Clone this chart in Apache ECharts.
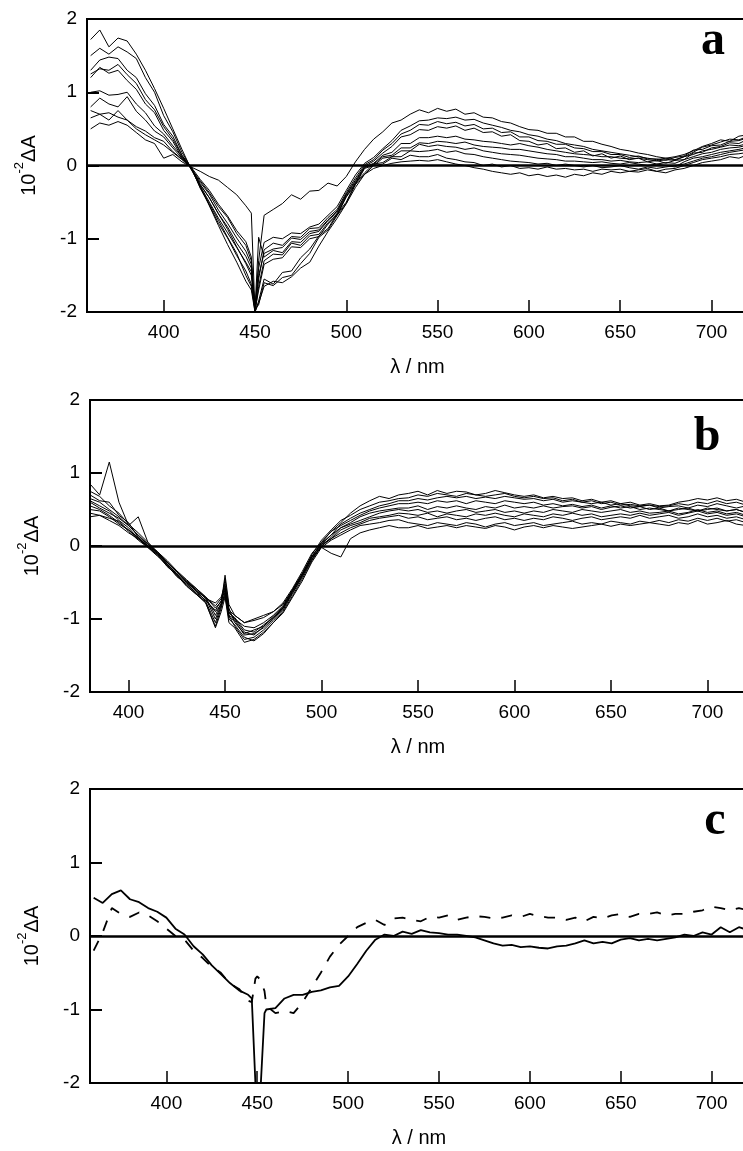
<!DOCTYPE html>
<html>
<head>
<meta charset="utf-8">
<script src="https://cdn.jsdelivr.net/npm/echarts@6/dist/echarts.min.js"></script>
<style>
  html, body { margin: 0; padding: 0; background: #fff; }
  #chart { width: 743px; height: 1151px; }
</style>
</head>
<body>
<div id="chart"></div>
<script>
// wavelengths (nm) for panel a and c, and panel b
var wlA = [360,365,370,375,380,385,390,395,400,405,410,415,420,425,430,435,440,445,
  448,450,452,
  455,460,465,470,475,480,485,490,495,500,505,510,515,520,525,530,535,540,
  545,550,555,560,565,570,575,580,585,590,595,600,605,610,615,620,625,630,635,640,645,650,655,660,665,670,675,680,685,690,695,700,705,710,715,720];

var wlB = [380,385,390,395,400,405,410,415,420,425,430,435,440,445,
  448,450,452,
  455,460,465,470,475,480,485,490,495,500,505,510,515,520,525,530,535,540,
  545,550,555,560,565,570,575,580,585,590,595,600,605,610,615,620,625,630,635,640,645,650,655,660,665,670,675,680,685,690,695,700,705,710,715,720];

var wlC = [360,365,370,375,380,385,390,395,400,405,410,415,420,425,430,435,440,445,
  447,449,450,452,454,
  455,460,465,470,475,480,485,490,495,500,505,510,515,520,525,530,535,540,
  545,550,555,560,565,570,575,580,585,590,595,600,605,610,615,620,625,630,635,640,645,650,655,660,665,670,675,680,685,690,695,700,705,710,715,720];

var xTicks = [400, 450, 500, 550, 600, 650, 700];

// panel a, 10 spectra (10^-2 dA)
var a1 = [1.72,1.85,1.62,1.74,1.70,1.52,1.30,1.05,0.78,0.50,0.22,-0.05,-0.28,-0.50,-0.72,-0.92,-1.12,-1.32,
  -1.45,-1.98,-1.40,
  -1.05,-0.98,-1.00,-0.92,-0.93,-0.84,-0.80,-0.68,-0.56,-0.34,-0.13,0.03,0.11,0.23,0.34,0.48,0.54,0.61,
  0.62,0.65,0.64,0.66,0.62,0.63,0.58,0.55,0.52,0.48,0.46,0.42,0.40,0.36,0.34,0.30,0.28,0.26,0.22,0.20,0.18,0.16,0.14,0.12,0.10,0.08,0.10,0.08,0.12,0.18,0.25,0.28,0.32,0.36,0.35,0.40];
var a2 = [1.50,1.60,1.52,1.62,1.55,1.46,1.20,1.00,0.68,0.46,0.18,-0.03,-0.26,-0.44,-0.66,-0.84,-1.06,-1.24,
  -1.40,-2.00,-1.55,
  -1.15,-1.06,-1.09,-0.97,-0.98,-0.86,-0.85,-0.71,-0.60,-0.37,-0.17,0.01,0.08,0.21,0.30,0.43,0.48,0.56,
  0.55,0.60,0.57,0.59,0.54,0.56,0.50,0.51,0.45,0.46,0.39,0.39,0.34,0.33,0.29,0.29,0.24,0.23,0.19,0.19,0.15,0.15,0.11,0.13,0.09,0.09,0.07,0.11,0.13,0.21,0.22,0.27,0.28,0.33,0.34,0.38];
var a3 = [1.30,1.44,1.48,1.46,1.30,1.20,0.98,0.82,0.56,0.40,0.14,-0.05,-0.23,-0.39,-0.61,-0.79,-0.99,-1.17,
  -1.35,-1.95,-1.50,
  -1.20,-1.14,-1.12,-0.99,-1.01,-0.90,-0.88,-0.74,-0.62,-0.39,-0.20,-0.01,0.06,0.17,0.26,0.39,0.42,0.49,
  0.48,0.53,0.51,0.54,0.48,0.51,0.45,0.46,0.40,0.42,0.34,0.33,0.28,0.30,0.23,0.24,0.18,0.20,0.13,0.16,0.10,0.13,0.08,0.10,0.05,0.07,0.03,0.07,0.08,0.17,0.18,0.24,0.26,0.31,0.30,0.36];
var a4 = [1.25,1.32,1.30,1.38,1.24,1.12,0.90,0.76,0.53,0.36,0.14,-0.02,-0.31,-0.54,-0.79,-0.99,-1.23,-1.44,
  -1.62,-2.00,-1.85,
  -1.55,-1.62,-1.46,-1.44,-1.26,-1.14,-0.96,-0.86,-0.66,-0.50,-0.24,-0.10,0.02,0.04,0.12,0.12,0.20,0.19,
  0.20,0.22,0.18,0.20,0.16,0.15,0.12,0.10,0.08,0.06,0.05,0.04,0.02,0.03,0.00,0.02,0.00,-0.02,0.00,-0.03,-0.02,0.00,-0.03,-0.05,-0.02,-0.04,-0.02,0.00,0.02,0.06,0.10,0.12,0.15,0.18,0.20,0.22];
var a5 = [1.20,1.34,1.26,1.30,1.16,1.04,0.84,0.72,0.48,0.33,0.11,-0.04,-0.21,-0.37,-0.56,-0.71,-0.93,-1.09,
  -1.30,-1.97,-0.98,
  -1.25,-1.16,-1.19,-1.04,-1.05,-0.93,-0.90,-0.75,-0.64,-0.40,-0.22,-0.02,0.03,0.14,0.18,0.30,0.30,0.38,
  0.38,0.40,0.38,0.40,0.36,0.35,0.33,0.32,0.30,0.28,0.30,0.27,0.25,0.22,0.20,0.18,0.16,0.15,0.14,0.12,0.12,0.10,0.09,0.10,0.08,0.06,0.08,0.07,0.12,0.15,0.20,0.22,0.25,0.28,0.27,0.30];
var a6 = [1.00,1.02,0.96,0.97,1.00,0.84,0.72,0.54,0.43,0.27,0.12,-0.02,-0.19,-0.34,-0.53,-0.69,-0.89,-1.04,
  -1.25,-2.00,-1.65,
  -1.30,-1.21,-1.22,-1.06,-1.09,-0.96,-0.94,-0.78,-0.66,-0.42,-0.24,-0.03,0.02,0.12,0.14,0.24,0.24,0.31,
  0.30,0.33,0.32,0.30,0.32,0.28,0.26,0.25,0.24,0.22,0.22,0.20,0.18,0.16,0.15,0.12,0.12,0.10,0.08,0.08,0.06,0.07,0.05,0.04,0.05,0.02,0.04,0.03,0.08,0.12,0.16,0.18,0.22,0.24,0.25,0.28];
var a7 = [0.80,0.92,0.84,0.80,0.94,0.74,0.62,0.47,0.39,0.24,0.10,-0.03,-0.26,-0.44,-0.66,-0.87,-1.11,-1.34,
  -1.50,-1.98,-1.70,
  -1.35,-1.28,-1.26,-1.11,-1.12,-1.00,-0.97,-0.80,-0.68,-0.43,-0.26,-0.04,0.00,0.10,0.12,0.20,0.20,0.29,
  0.26,0.28,0.26,0.25,0.22,0.24,0.20,0.18,0.16,0.15,0.14,0.12,0.10,0.09,0.08,0.06,0.06,0.05,0.04,0.05,0.03,0.02,0.04,0.02,0.00,0.02,0.00,-0.02,0.05,0.10,0.12,0.15,0.18,0.20,0.22,0.25];
var a8 = [0.75,0.70,0.72,0.66,0.62,0.53,0.47,0.38,0.33,0.19,0.09,-0.02,-0.08,-0.15,-0.20,-0.30,-0.40,-0.55,
  -0.65,-2.00,-1.30,
  -0.68,-0.60,-0.52,-0.40,-0.46,-0.35,-0.34,-0.24,-0.28,-0.15,0.05,0.22,0.36,0.46,0.58,0.62,0.70,0.76,
  0.72,0.78,0.74,0.77,0.70,0.72,0.66,0.65,0.60,0.58,0.53,0.49,0.48,0.44,0.44,0.39,0.39,0.33,0.33,0.29,0.26,0.22,0.20,0.17,0.15,0.12,0.10,0.12,0.15,0.20,0.26,0.30,0.35,0.33,0.40,0.42];
var a9 = [0.65,0.70,0.62,0.75,0.62,0.50,0.42,0.35,0.28,0.18,0.08,-0.03,-0.30,-0.52,-0.75,-0.98,-1.20,-1.50,
  -1.65,-1.96,-1.90,
  -1.60,-1.64,-1.53,-1.50,-1.34,-1.20,-0.98,-0.88,-0.68,-0.52,-0.26,-0.12,0.00,0.02,0.10,0.08,0.14,0.12,
  0.12,0.15,0.10,0.08,0.05,0.04,0.00,0.02,-0.02,0.00,-0.04,-0.03,-0.05,-0.02,-0.05,-0.04,-0.06,-0.05,-0.08,-0.05,-0.06,-0.05,-0.08,-0.06,-0.04,-0.08,-0.05,-0.04,0.00,0.04,0.08,0.10,0.12,0.15,0.16,0.18];
var a10 = [0.50,0.58,0.55,0.60,0.55,0.45,0.35,0.30,0.10,0.15,0.05,-0.02,-0.28,-0.55,-0.82,-1.08,-1.32,-1.58,
  -1.70,-2.00,-1.88,
  -1.65,-1.58,-1.60,-1.52,-1.40,-1.32,-1.10,-0.90,-0.72,-0.52,-0.30,-0.12,-0.04,0.00,0.03,0.05,0.06,0.07,
  0.06,0.08,0.05,0.02,0.00,-0.03,-0.05,-0.08,-0.10,-0.12,-0.10,-0.14,-0.12,-0.15,-0.13,-0.16,-0.12,-0.14,-0.10,-0.12,-0.08,-0.10,-0.08,-0.09,-0.06,-0.08,-0.10,-0.06,-0.04,0.00,0.04,0.06,0.08,0.12,0.10,0.15];

// panel b, 10 spectra
var b1 = [0.85,0.70,1.15,0.60,0.28,0.40,0.05,-0.10,-0.22,-0.35,-0.48,-0.60,-0.72,-1.00,
  -0.80,-0.45,-0.85,
  -1.05,-1.20,-1.15,-1.10,-0.98,-0.85,-0.62,-0.40,-0.15,0.05,0.20,0.32,0.45,0.55,0.62,0.68,0.65,0.70,
  0.72,0.75,0.70,0.76,0.72,0.75,0.74,0.70,0.72,0.76,0.73,0.70,0.68,0.70,0.66,0.68,0.65,0.66,0.62,0.64,0.60,0.62,0.58,0.60,0.56,0.58,0.55,0.56,0.60,0.62,0.65,0.63,0.66,0.62,0.64,0.60];
var b2 = [0.75,0.68,0.55,0.45,0.30,0.18,0.05,-0.08,-0.25,-0.38,-0.50,-0.62,-0.75,-0.88,
  -0.75,-0.55,-0.90,
  -1.00,-1.10,-1.12,-1.05,-0.95,-0.82,-0.60,-0.38,-0.12,0.08,0.22,0.35,0.42,0.50,0.55,0.60,0.62,0.65,
  0.66,0.70,0.68,0.72,0.70,0.68,0.72,0.70,0.68,0.70,0.72,0.68,0.66,0.68,0.65,0.66,0.62,0.64,0.60,0.62,0.58,0.60,0.56,0.57,0.55,0.56,0.54,0.55,0.58,0.56,0.60,0.58,0.62,0.58,0.60,0.56];
var b3 = [0.70,0.62,0.60,0.42,0.32,0.12,0.00,-0.12,-0.28,-0.40,-0.52,-0.65,-0.78,-1.10,
  -0.85,-0.62,-0.95,
  -1.10,-1.28,-1.25,-1.15,-1.02,-0.88,-0.65,-0.42,-0.18,0.02,0.15,0.30,0.38,0.45,0.50,0.55,0.58,0.62,
  0.62,0.65,0.63,0.66,0.68,0.66,0.68,0.65,0.67,0.65,0.68,0.66,0.64,0.65,0.62,0.64,0.60,0.62,0.60,0.58,0.60,0.56,0.58,0.55,0.54,0.56,0.52,0.54,0.55,0.52,0.56,0.54,0.58,0.55,0.52,0.55];
var b4 = [0.65,0.60,0.50,0.40,0.28,0.15,0.03,-0.10,-0.22,-0.36,-0.48,-0.62,-0.70,-0.95,
  -0.78,-0.40,-0.80,
  -0.95,-1.05,-1.02,-0.98,-0.90,-0.78,-0.58,-0.35,-0.10,0.05,0.20,0.28,0.35,0.42,0.48,0.52,0.55,0.58,
  0.58,0.60,0.58,0.62,0.60,0.62,0.58,0.62,0.60,0.58,0.62,0.60,0.58,0.60,0.56,0.58,0.55,0.57,0.54,0.56,0.52,0.55,0.52,0.54,0.50,0.52,0.50,0.48,0.52,0.50,0.48,0.52,0.50,0.48,0.50,0.46];
var b5 = [0.62,0.55,0.48,0.35,0.25,0.10,0.00,-0.12,-0.25,-0.40,-0.55,-0.66,-0.76,-1.05,
  -0.82,-0.68,-1.00,
  -1.08,-1.25,-1.30,-1.20,-1.05,-0.90,-0.68,-0.45,-0.20,0.00,0.12,0.25,0.32,0.40,0.45,0.48,0.50,0.52,
  0.52,0.55,0.50,0.54,0.52,0.55,0.52,0.50,0.54,0.52,0.56,0.52,0.54,0.52,0.55,0.52,0.54,0.55,0.52,0.54,0.50,0.53,0.55,0.52,0.54,0.50,0.52,0.48,0.50,0.52,0.48,0.50,0.52,0.48,0.50,0.46];
var b6 = [0.60,0.52,0.45,0.38,0.28,0.14,0.02,-0.08,-0.20,-0.34,-0.46,-0.58,-0.70,-0.82,
  -0.72,-0.58,-0.92,
  -0.98,-1.15,-1.18,-1.08,-0.98,-0.85,-0.62,-0.40,-0.15,0.04,0.15,0.25,0.30,0.35,0.40,0.45,0.48,0.50,
  0.48,0.50,0.46,0.48,0.45,0.48,0.50,0.46,0.48,0.50,0.46,0.48,0.45,0.48,0.46,0.50,0.48,0.46,0.50,0.48,0.46,0.48,0.50,0.46,0.48,0.45,0.46,0.48,0.44,0.46,0.50,0.46,0.48,0.44,0.46,0.42];
var b7 = [0.55,0.50,0.42,0.32,0.22,0.10,-0.02,-0.14,-0.26,-0.42,-0.52,-0.64,-0.74,-0.90,
  -0.80,-0.65,-0.98,
  -1.02,-1.22,-1.20,-1.12,-1.00,-0.86,-0.64,-0.42,-0.18,0.00,0.10,0.22,0.28,0.32,0.38,0.40,0.42,0.45,
  0.44,0.42,0.45,0.40,0.44,0.42,0.40,0.44,0.42,0.45,0.42,0.40,0.44,0.42,0.40,0.44,0.42,0.45,0.42,0.44,0.40,0.42,0.44,0.42,0.45,0.42,0.44,0.46,0.42,0.45,0.48,0.44,0.46,0.42,0.44,0.40];
var b8 = [0.50,0.48,0.40,0.30,0.22,0.12,0.00,-0.10,-0.24,-0.38,-0.50,-0.60,-0.72,-0.78,
  -0.70,-0.52,-0.88,
  -0.95,-1.05,-1.00,-0.95,-0.90,-0.80,-0.60,-0.38,-0.14,0.02,0.10,0.18,0.25,0.30,0.35,0.38,0.40,0.42,
  0.38,0.40,0.36,0.38,0.40,0.36,0.38,0.35,0.38,0.40,0.36,0.38,0.35,0.38,0.36,0.40,0.38,0.35,0.38,0.40,0.36,0.38,0.40,0.38,0.42,0.38,0.40,0.42,0.38,0.40,0.44,0.40,0.42,0.38,0.40,0.36];
var b9 = [0.45,0.42,0.38,0.34,0.20,0.08,-0.02,-0.12,-0.28,-0.40,-0.54,-0.66,-0.78,-1.12,
  -0.90,-0.70,-1.05,
  -1.12,-1.32,-1.28,-1.18,-1.05,-0.92,-0.70,-0.48,-0.22,-0.02,0.08,0.15,0.22,0.28,0.30,0.32,0.35,0.36,
  0.32,0.30,0.28,0.32,0.30,0.28,0.32,0.30,0.26,0.30,0.32,0.28,0.30,0.32,0.28,0.30,0.32,0.34,0.30,0.32,0.30,0.34,0.32,0.30,0.34,0.32,0.35,0.32,0.36,0.34,0.38,0.35,0.38,0.34,0.36,0.32];
var b10 = [0.40,0.42,0.35,0.28,0.18,0.10,0.00,-0.08,-0.22,-0.35,-0.48,-0.58,-0.70,-0.85,
  -0.76,-0.60,-0.95,
  -1.00,-1.18,-1.22,-1.10,-0.96,-0.84,-0.60,-0.38,-0.15,-0.02,-0.10,-0.15,0.10,0.18,0.22,0.25,0.28,0.25,
  0.25,0.28,0.24,0.26,0.28,0.25,0.28,0.26,0.24,0.28,0.26,0.22,0.26,0.28,0.25,0.28,0.26,0.24,0.26,0.28,0.30,0.27,0.30,0.28,0.30,0.32,0.30,0.28,0.32,0.30,0.35,0.30,0.32,0.35,0.30,0.28];

// panel c, solid and dashed spectra
var cSolid = [0.52,0.45,0.57,0.62,0.50,0.46,0.38,0.33,0.25,0.10,0.02,-0.14,-0.25,-0.40,-0.52,-0.64,-0.74,-0.80,
  -0.85,-2.00,-2.00,-2.00,-1.05,
  -1.00,-0.98,-0.85,-0.80,-0.80,-0.76,-0.74,-0.70,-0.68,-0.55,-0.38,-0.20,-0.05,0.02,0.00,0.06,0.03,0.08,
  0.05,0.04,0.02,0.02,0.00,-0.02,-0.06,-0.10,-0.13,-0.12,-0.15,-0.14,-0.16,-0.17,-0.14,-0.13,-0.10,-0.06,-0.10,-0.08,-0.10,-0.05,
  -0.03,-0.06,-0.04,-0.06,-0.04,-0.02,0.02,0.00,0.05,0.02,0.12,0.05,0.12,0.08];
var cDashed = [-0.20,0.05,0.38,0.30,0.26,0.32,0.28,0.20,0.10,0.00,-0.05,-0.20,-0.30,-0.42,-0.50,-0.65,-0.72,-0.88,
  -0.90,-0.58,-0.55,-0.60,-0.75,
  -0.95,-1.05,-1.02,-1.05,-0.90,-0.70,-0.50,-0.28,-0.12,0.00,0.12,0.18,0.22,0.15,0.24,0.25,0.22,0.20,
  0.26,0.25,0.28,0.22,0.25,0.27,0.26,0.24,0.25,0.28,0.26,0.30,0.27,0.25,0.25,0.22,0.25,0.20,0.26,0.24,0.28,0.30,
  0.26,0.30,0.30,0.32,0.28,0.30,0.30,0.33,0.35,0.40,0.38,0.35,0.38,0.35];

var FONT = 'Liberation Sans';

function pairs(xs, ys) {
  return xs.map(function (x, i) { return [x, ys[i]]; });
}

function spectrum(idx, xs, ys, width, dash) {
  return {
    type: 'line',
    xAxisIndex: idx,
    yAxisIndex: idx,
    data: pairs(xs, ys),
    symbol: 'none',
    silent: true,
    lineStyle: { color: '#000', width: width, type: dash || 'solid' },
    z: 3
  };
}

function zeroLine(idx) {
  return {
    type: 'line',
    xAxisIndex: idx,
    yAxisIndex: idx,
    data: [],
    silent: true,
    markLine: {
      silent: true,
      symbol: 'none',
      label: { show: false },
      lineStyle: { color: '#000', width: 2.5, type: 'solid' },
      data: [{ yAxis: 0 }]
    },
    z: 4
  };
}

function xAxis(idx, min) {
  return {
    type: 'value',
    gridIndex: idx,
    min: min,
    max: 720,
    name: 'λ / nm',
    nameLocation: 'middle',
    nameGap: 45,
    nameTextStyle: { fontFamily: FONT, fontSize: 20, color: '#000' },
    axisLine: { show: false, onZero: false },
    axisTick: { inside: true, length: 12, customValues: xTicks, lineStyle: { color: '#000', width: 1.5 } },
    axisLabel: { customValues: xTicks, margin: 11, fontFamily: FONT, fontSize: 19, color: '#000' },
    splitLine: { show: false }
  };
}

function yAxis(idx) {
  return {
    type: 'value',
    gridIndex: idx,
    min: -2,
    max: 2,
    interval: 1,
    name: '{n|10}{s|-2}{n|ΔA}',
    nameLocation: 'middle',
    nameRotate: 90,
    nameGap: 48,
    nameTextStyle: {
      rich: {
        n: { fontFamily: FONT, fontSize: 20, color: '#000', lineHeight: 26, verticalAlign: 'bottom' },
        s: { fontFamily: FONT, fontSize: 13, color: '#000', lineHeight: 26, verticalAlign: 'top' }
      }
    },
    axisLine: { show: false, onZero: false },
    axisTick: { inside: true, length: 12, lineStyle: { color: '#000', width: 2 } },
    axisLabel: { margin: 10, fontFamily: FONT, fontSize: 19, color: '#000' },
    splitLine: { show: false }
  };
}

function grid(left, top, width, height) {
  return {
    left: left, top: top, width: width, height: height,
    show: true, borderColor: '#000', borderWidth: 2,
    backgroundColor: 'transparent',
    containLabel: false, outerBoundsMode: 'none'
  };
}

function letter(t, x, y) {
  return {
    type: 'text',
    x: x,
    y: y,
    silent: true,
    style: {
      text: t,
      font: 'bold 48px "Liberation Serif"',
      fill: '#000',
      textAlign: 'center',
      textVerticalAlign: 'middle',
      align: 'center',
      verticalAlign: 'middle'
    }
  };
}

var curvesA = [a1, a2, a3, a4, a5, a6, a7, a8, a9, a10];
var curvesB = [b1, b2, b3, b4, b5, b6, b7, b8, b9, b10];

var series = [];
curvesA.forEach(function (ys) { series.push(spectrum(0, wlA, ys, 1)); });
curvesB.forEach(function (ys) { series.push(spectrum(1, wlB, ys, 1)); });
series.push(spectrum(2, wlC, cSolid, 1.8));
series.push(spectrum(2, wlC, cDashed, 1.8, [11, 11]));
series.push(zeroLine(0), zeroLine(1), zeroLine(2));

var chart = echarts.init(document.getElementById('chart'), null, { renderer: 'canvas' });
chart.setOption({
  animation: false,
  backgroundColor: '#fff',
  grid: [
    grid(87, 19, 661, 293),
    grid(90, 400, 656, 292),
    grid(90, 789, 658, 294)
  ],
  xAxis: [xAxis(0, 358), xAxis(1, 380), xAxis(2, 358)],
  yAxis: [yAxis(0), yAxis(1), yAxis(2)],
  graphic: [
    letter('a', 713, 42),
    letter('b', 707, 438),
    letter('c', 715, 822)
  ],
  series: series
});
</script>
</body>
</html>
